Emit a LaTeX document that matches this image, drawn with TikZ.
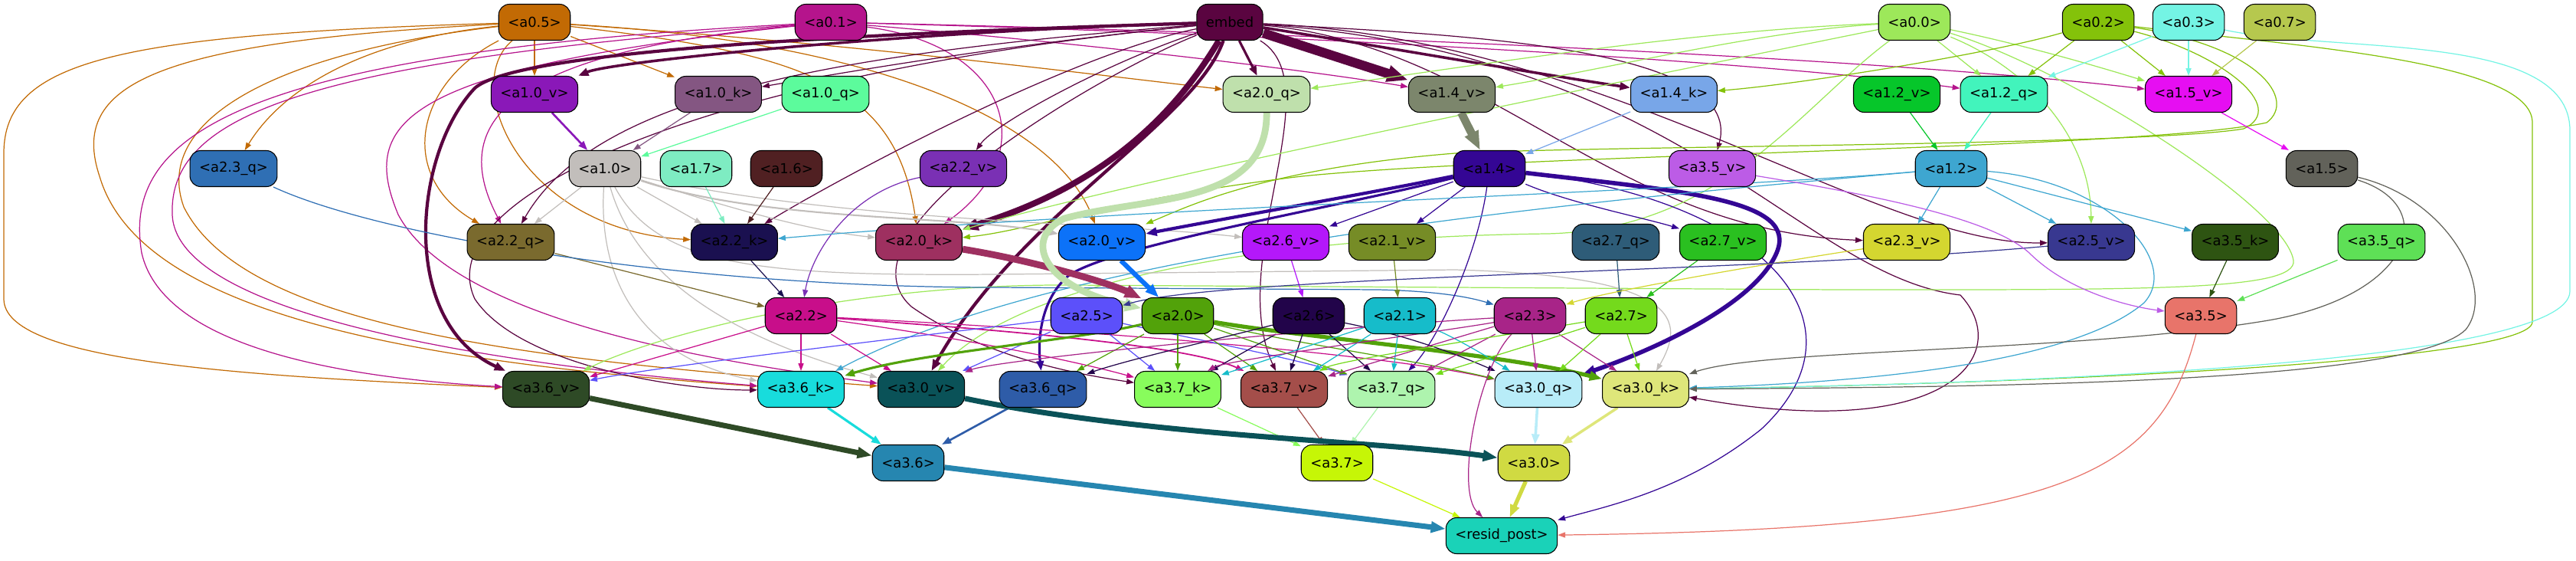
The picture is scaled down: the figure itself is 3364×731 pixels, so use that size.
\documentclass[tikz,border=0pt]{standalone}
\usepackage{fontspec}
\setmainfont{DejaVu Sans}
\usetikzlibrary{arrows.meta}
\pgfdeclarelayer{bg}
\pgfsetlayers{bg,main}
\definecolor{c05}{HTML}{C26A04}\definecolor{c01}{HTML}{B5148C}\definecolor{cemb}{HTML}{5A0440}
\definecolor{c00}{HTML}{9DE85A}\definecolor{c02}{HTML}{84C20A}\definecolor{c03}{HTML}{74F4E4}
\definecolor{c07}{HTML}{B6C84E}
\definecolor{c10v}{HTML}{8A18B8}\definecolor{c10k}{HTML}{845682}\definecolor{c10q}{HTML}{5CFB9C}
\definecolor{c20q}{HTML}{BFE0AC}\definecolor{c14v}{HTML}{7C866C}\definecolor{c14k}{HTML}{78A6E8}
\definecolor{c12v}{HTML}{06C62A}\definecolor{c12q}{HTML}{42F4BC}\definecolor{c15v}{HTML}{E60EF2}
\definecolor{c23q}{HTML}{2F6FB4}\definecolor{c10}{HTML}{C2BEBB}\definecolor{c17}{HTML}{7EECC2}
\definecolor{c16}{HTML}{502022}\definecolor{c22v}{HTML}{7A30B4}\definecolor{c14}{HTML}{340694}
\definecolor{c35v}{HTML}{BC5CE6}\definecolor{c12}{HTML}{3EA6D0}\definecolor{c15}{HTML}{62625A}
\definecolor{c22q}{HTML}{7A6A2E}\definecolor{c22k}{HTML}{1A1050}\definecolor{c20k}{HTML}{9E3060}
\definecolor{c20v}{HTML}{0C72F8}\definecolor{c26v}{HTML}{B418FA}\definecolor{c21v}{HTML}{768C26}
\definecolor{c27q}{HTML}{2E5C78}\definecolor{c27v}{HTML}{2AC020}\definecolor{c23v}{HTML}{D4D630}
\definecolor{c25v}{HTML}{383890}\definecolor{c35k}{HTML}{2E5412}\definecolor{c35q}{HTML}{5EE056}
\definecolor{c22}{HTML}{C80E8A}\definecolor{c25}{HTML}{5C50FA}\definecolor{c20}{HTML}{52A20A}
\definecolor{c26}{HTML}{22044A}\definecolor{c21}{HTML}{16BCCA}\definecolor{c23}{HTML}{A82488}
\definecolor{c27}{HTML}{74DA1C}\definecolor{c35}{HTML}{E8746A}
\definecolor{c36v}{HTML}{2E4A26}\definecolor{c36k}{HTML}{18DCDC}\definecolor{c30v}{HTML}{0A5258}
\definecolor{c36q}{HTML}{2E5CA8}\definecolor{c37k}{HTML}{88FC5C}\definecolor{c37v}{HTML}{A44E4A}
\definecolor{c37q}{HTML}{AEF4AE}\definecolor{c30q}{HTML}{B8ECF8}\definecolor{c30k}{HTML}{DEE67A}
\definecolor{c36}{HTML}{2686B0}\definecolor{c37}{HTML}{C6F606}\definecolor{c30}{HTML}{D0DA42}
\definecolor{crp}{HTML}{1AD2B8}
\tikzset{
  box/.style={draw=black, line width=0.6pt, rounded corners=0.28cm, minimum height=0.94cm,
    inner xsep=0.24cm, inner ysep=0pt, fill=#1, font=\fontsize{10.2}{12}\selectfont},
  wire/.style={draw=#1, line width=0.7pt, -{Triangle[length=4.5pt 1.6, width=3.2pt 1.2]}}
}
\begin{document}
\begin{tikzpicture}[x=0.02cm,y=-0.02cm]
\useasboundingbox (0,0) rectangle (3364,731);
% row 1
\node[box=c05] (a05) at (698,29) {<a0.5>};
\node[box=c01] (a01) at (1085,29) {<a0.1>};
\node[box=cemb] (emb) at (1606,29) {embed};
\node[box=c00] (a00) at (2500,29) {<a0.0>};
\node[box=c02] (a02) at (2740,29) {<a0.2>};
\node[box=c03] (a03) at (2858,29) {<a0.3>};
\node[box=c07] (a07) at (2977,29) {<a0.7>};
% row 2
\node[box=c10v] (a10v) at (698,123) {<a1.0\_v>};
\node[box=c10k] (a10k) at (938,123) {<a1.0\_k>};
\node[box=c10q] (a10q) at (1078,123) {<a1.0\_q>};
\node[box=c20q] (a20q) at (1654,123) {<a2.0\_q>};
\node[box=c14v] (a14v) at (1896,123) {<a1.4\_v>};
\node[box=c14k] (a14k) at (2186,123) {<a1.4\_k>};
\node[box=c12v] (a12v) at (2477,123) {<a1.2\_v>};
\node[box=c12q] (a12q) at (2617,123) {<a1.2\_q>};
\node[box=c15v] (a15v) at (2858,123) {<a1.5\_v>};
% row 3
\node[box=c23q] (a23q) at (305,220) {<a2.3\_q>};
\node[box=c10] (a10) at (790,220) {<a1.0>};
\node[box=c17] (a17) at (909,220) {<a1.7>};
\node[box=c16] (a16) at (1027,220) {<a1.6>};
\node[box=c22v] (a22v) at (1258,220) {<a2.2\_v>};
\node[box=c14] (a14) at (1945,220) {<a1.4>};
\node[box=c35v] (a35v) at (2236,220) {<a3.5\_v>};
\node[box=c12] (a12) at (2548,220) {<a1.2>};
\node[box=c15] (a15) at (3032,220) {<a1.5>};
% row 4
\node[box=c22q] (a22q) at (667,316) {<a2.2\_q>};
\node[box=c22k] (a22k) at (959,316) {<a2.2\_k>};
\node[box=c20k] (a20k) at (1200,316) {<a2.0\_k>};
\node[box=c20v] (a20v) at (1439,316) {<a2.0\_v>};
\node[box=c26v] (a26v) at (1679,316) {<a2.6\_v>};
\node[box=c21v] (a21v) at (1818,316) {<a2.1\_v>};
\node[box=c27q] (a27q) at (2110,316) {<a2.7\_q>};
\node[box=c27v] (a27v) at (2250,316) {<a2.7\_v>};
\node[box=c23v] (a23v) at (2490,316) {<a2.3\_v>};
\node[box=c25v] (a25v) at (2731,316) {<a2.5\_v>};
\node[box=c35k] (a35k) at (2919,316) {<a3.5\_k>};
\node[box=c35q] (a35q) at (3110,316) {<a3.5\_q>};
% row 5
\node[box=c22] (a22) at (1046,412) {<a2.2>};
\node[box=c25] (a25) at (1419,412) {<a2.5>};
\node[box=c20] (a20) at (1538,412) {<a2.0>};
\node[box=c26] (a26) at (1709,412) {<a2.6>};
\node[box=c21] (a21) at (1828,412) {<a2.1>};
\node[box=c23] (a23) at (1998,412) {<a2.3>};
\node[box=c27] (a27) at (2117,412) {<a2.7>};
\node[box=c35] (a35) at (2874,412) {<a3.5>};
% row 6
\node[box=c36v] (a36v) at (713,508) {<a3.6\_v>};
\node[box=c36k] (a36k) at (1046,508) {<a3.6\_k>};
\node[box=c30v] (a30v) at (1203,508) {<a3.0\_v>};
\node[box=c36q] (a36q) at (1362,508) {<a3.6\_q>};
\node[box=c37k] (a37k) at (1538,508) {<a3.7\_k>};
\node[box=c37v] (a37v) at (1677,508) {<a3.7\_v>};
\node[box=c37q] (a37q) at (1817,508) {<a3.7\_q>};
\node[box=c30q] (a30q) at (2009,508) {<a3.0\_q>};
\node[box=c30k] (a30k) at (2149,508) {<a3.0\_k>};
% row 7, 8
\node[box=c36] (a36) at (1186,604) {<a3.6>};
\node[box=c37] (a37) at (1746,604) {<a3.7>};
\node[box=c30] (a30) at (2003,604) {<a3.0>};
\node[box=crp] (rp) at (1961,699) {<resid\_post>};

\begin{pgfonlayer}{bg}
% a0.5
\draw[wire=c05] (a05) -- (a10v);
\draw[wire=c05] (a05) -- (a10k);
\draw[wire=c05] (a05) .. controls (450,55) and (360,130) .. (a23q);
\draw[wire=c05] (a05) .. controls (540,110) and (520,230) .. (a22q);
\draw[wire=c05] (a05) .. controls (600,110) and (680,300) .. (a22k);
\draw[wire=c05] (a05) .. controls (1050,70) and (1170,110) .. (a20k);
\draw[wire=c05] (a05) .. controls (1100,55) and (1450,100) .. (a20q);
\draw[wire=c05] (a05) .. controls (1150,55) and (1380,160) .. (a20v);
\draw[wire=c05] (a05) .. controls (150,45) and (5,80) .. (5,200) -- (5,390) .. controls (5,470) and (300,490) .. (a36v);
\draw[wire=c05] (a05) .. controls (200,55) and (90,110) .. (130,230) .. controls (180,400) and (500,470) .. (a36k);
\draw[wire=c05] (a05) .. controls (350,70) and (200,160) .. (240,270) .. controls (320,430) and (700,470) .. (a30v);
% a0.1
\draw[wire=c01] (a01) .. controls (640,70) and (590,170) .. (a22q);
\draw[wire=c01] (a01) .. controls (300,70) and (160,180) .. (185,330) .. controls (210,440) and (400,490) .. (a36v);
\draw[wire=c01] (a01) .. controls (400,80) and (220,150) .. (225,280) .. controls (230,420) and (700,480) .. (a36k);
\draw[wire=c01] (a01) .. controls (520,90) and (470,160) .. (520,280) .. controls (600,430) and (1000,480) .. (a30v);
\draw[wire=c01] (a01) .. controls (1400,55) and (1700,90) .. (a14v);
\draw[wire=c01] (a01) .. controls (1700,45) and (2300,80) .. (a12q);
\draw[wire=c01] (a01) .. controls (1800,45) and (2500,80) .. (a15v);
\draw[wire=c01] (a01) .. controls (1320,60) and (1360,200) .. (a20k);
% embed
\draw[wire=cemb, line width=2pt] (emb) .. controls (1200,40) and (800,80) .. (a10v);
\draw[wire=cemb, line width=2.4pt] (emb) .. controls (900,50) and (660,80) .. (620,115) .. controls (540,200) and (520,420) .. (a36v);
\draw[wire=cemb] (emb) .. controls (1300,60) and (1100,95) .. (a10k);
\draw[wire=cemb] (emb) .. controls (1100,70) and (780,120) .. (a22q);
\draw[wire=cemb] (emb) .. controls (1400,70) and (1100,230) .. (a22k);
\draw[wire=cemb] (emb) .. controls (1450,80) and (1300,160) .. (a22v);
\draw[wire=cemb, line width=4.5pt] (emb) .. controls (1540,140) and (1450,240) .. (a20k);
\draw[wire=cemb, line width=2.4pt] (emb) .. controls (1560,160) and (1330,280) .. (a30v);
\draw[wire=cemb, line width=1.8pt] (emb) -- (a20q);
\draw[wire=cemb, line width=7pt] (emb) -- (a14v);
\draw[wire=cemb, line width=2pt] (emb) .. controls (1800,60) and (2000,95) .. (a14k);
\draw[wire=cemb] (emb) .. controls (1900,45) and (2280,60) .. (a35v);
\draw[wire=cemb] (emb) .. controls (1740,110) and (1600,340) .. (a37v);
\draw[wire=cemb] (emb) .. controls (1450,90) and (1080,300) .. (1190,400) .. controls (1290,470) and (1420,490) .. (a37k);
\draw[wire=cemb] (emb) .. controls (900,100) and (560,260) .. (620,390) .. controls (680,480) and (900,510) .. (a36k);
\draw[wire=cemb] (emb) .. controls (1950,60) and (2100,300) .. (a23v);
\draw[wire=cemb] (emb) .. controls (2100,50) and (2450,320) .. (a25v);
\draw[wire=cemb] (emb) .. controls (2200,70) and (2350,360) .. (2560,385) .. controls (2630,460) and (2550,580) .. (a30k);
% a0.0
\draw[wire=c00] (a00) -- (a12q);
\draw[wire=c00] (a00) .. controls (2650,60) and (2750,90) .. (a15v);
\draw[wire=c00] (a00) .. controls (2650,90) and (2730,180) .. (a25v);
\draw[wire=c00] (a00) .. controls (2300,40) and (2100,90) .. (a14v);
\draw[wire=c00] (a00) .. controls (2200,40) and (1900,90) .. (a20q);
\draw[wire=c00] (a00) .. controls (2100,110) and (1500,230) .. (a20k);
\draw[wire=c00] (a00) .. controls (2700,90) and (2985,270) .. (2995,340) .. controls (3000,380) and (2800,378) .. (2400,378) -- (1400,372) .. controls (1100,370) and (850,440) .. (a36v);
\draw[wire=c00] (a00) .. controls (2350,140) and (2250,300) .. (2020,305) .. controls (1600,310) and (1320,380) .. (a30v);
% a0.2
\draw[wire=c02] (a02) -- (a12q);
\draw[wire=c02] (a02) -- (a15v);
\draw[wire=c02] (a02) .. controls (2600,70) and (2350,110) .. (a14k);
\draw[wire=c02] (a02) .. controls (2900,70) and (2990,140) .. (2930,168) .. controls (2800,190) and (2100,190) .. (1900,200) .. controls (1650,220) and (1550,270) .. (a20v);
\draw[wire=c02] (a02) .. controls (2950,60) and (3000,130) .. (2960,160) .. controls (2800,195) and (2000,200) .. (1700,230) .. controls (1450,260) and (1350,300) .. (a20k);
\draw[wire=c02] (a02) .. controls (3000,60) and (3307,80) .. (3307,160) -- (3307,420) .. controls (3307,470) and (2700,500) .. (a30k);
% a0.3, a0.7
\draw[wire=c03] (a03) -- (a12q);
\draw[wire=c03] (a03) -- (a15v);
\draw[wire=c03] (a03) .. controls (3050,70) and (3356,40) .. (3356,170) -- (3356,380) .. controls (3356,470) and (2700,500) .. (a30k);
\draw[wire=c07] (a07) -- (a15v);
% row 2 to row 3
\draw[wire=c10v, line width=1.5pt] (a10v) -- (a10);
\draw[wire=c10k] (a10k) -- (a10);
\draw[wire=c10q] (a10q) -- (a10);
\draw[wire=c14v, line width=6pt] (a14v) -- (a14);
\draw[wire=c14k] (a14k) -- (a14);
\draw[wire=c12v] (a12v) -- (a12);
\draw[wire=c12q] (a12q) -- (a12);
\draw[wire=c15v] (a15v) -- (a15);
% a1.0
\draw[wire=c10] (a10) -- (a22q);
\draw[wire=c10] (a10) -- (a22k);
\draw[wire=c10] (a10) .. controls (950,270) and (1050,300) .. (a20k);
\draw[wire=c10, line width=1.2pt] (a10) .. controls (1000,290) and (1250,280) .. (a20v);
\draw[wire=c10] (a10) .. controls (1100,290) and (1450,290) .. (a26v);
\draw[wire=c10] (a10) .. controls (780,380) and (850,470) .. (a36k);
\draw[wire=c10] (a10) .. controls (830,360) and (950,440) .. (a30v);
\draw[wire=c10] (a10) .. controls (860,350) and (1000,360) .. (1300,358) -- (1900,352) .. controls (2200,360) and (2200,420) .. (a30k);
% row 3 others
\draw[wire=c17] (a17) -- (a22k);
\draw[wire=c16] (a16) -- (a22k);
\draw[wire=c22v] (a22v) .. controls (1110,250) and (1060,330) .. (a22);
\draw[wire=c22q] (a22q) -- (a22);
\draw[wire=c22k] (a22k) -- (a22);
\draw[wire=c23q] (a23q) .. controls (500,310) and (900,375) .. (1300,375) -- (1800,378) .. controls (1880,380) and (1920,388) .. (a23);
% a1.4
\draw[wire=c14, line width=2.4pt] (a14) .. controls (1800,250) and (1600,285) .. (a20v);
\draw[wire=c14, line width=1.8pt] (a14) .. controls (1750,270) and (1450,320) .. (1395,360) .. controls (1360,390) and (1355,440) .. (a36q);
\draw[wire=c14] (a14) -- (a26v);
\draw[wire=c14] (a14) -- (a21v);
\draw[wire=c14] (a14) .. controls (2050,265) and (2150,285) .. (a27v);
\draw[wire=c14, line width=3.2pt] (a14) .. controls (2200,250) and (2350,260) .. (2320,330) .. controls (2290,400) and (2150,460) .. (a30q);
\draw[wire=c14] (a14) .. controls (1930,330) and (1880,440) .. (a37q);
\draw[wire=c14] (a14) .. controls (2300,260) and (2450,420) .. (2300,560) .. controls (2200,640) and (2100,660) .. (rp);
% a1.2, a1.5
\draw[wire=c12] (a12) -- (a23v);
\draw[wire=c12] (a12) -- (a25v);
\draw[wire=c12] (a12) -- (a35k);
\draw[wire=c12] (a12) .. controls (2200,250) and (1500,270) .. (a22k);
\draw[wire=c12] (a12) .. controls (2100,260) and (1400,320) .. (a36k);
\draw[wire=c12] (a12) .. controls (2750,235) and (2850,340) .. (2800,395) .. controls (2700,480) and (2400,500) .. (a30k);
\draw[wire=c15] (a15) .. controls (3200,260) and (3260,380) .. (3220,430) .. controls (3150,500) and (2600,505) .. (a30k);
\draw[wire=c15] (a15) .. controls (3190,270) and (3150,390) .. (2950,420) .. controls (2700,460) and (2300,455) .. (a30k);
% row 4 to row 5
\draw[wire=c20k, line width=5pt] (a20k) .. controls (1350,340) and (1450,370) .. (a20);
\draw[wire=c20v, line width=3.5pt] (a20v) -- (a20);
\draw[wire=c20q, line width=5pt] (a20q) .. controls (1655,270) and (1500,255) .. (1390,285) .. controls (1335,310) and (1360,375) .. (a20);
\draw[wire=c26v] (a26v) -- (a26);
\draw[wire=c21v] (a21v) -- (a21);
\draw[wire=c27q] (a27q) -- (a27);
\draw[wire=c27v] (a27v) -- (a27);
\draw[wire=c23v] (a23v) .. controls (2300,345) and (2100,380) .. (a23);
\draw[wire=c25v] (a25v) .. controls (2300,355) and (1600,360) .. (a25);
\draw[wire=c35k] (a35k) -- (a35);
\draw[wire=c35q] (a35q) -- (a35);
\draw[wire=c35v] (a35v) .. controls (2450,255) and (2600,285) .. (2650,330) .. controls (2700,380) and (2780,400) .. (a35);
% row 5 to row 6
\draw[wire=c22] (a22) -- (a36k);
\draw[wire=c22] (a22) -- (a36v);
\draw[wire=c22] (a22) -- (a30v);
\draw[wire=c22] (a22) .. controls (1250,440) and (1400,470) .. (a37k);
\draw[wire=c22, line width=1pt] (a22) .. controls (1300,430) and (1550,450) .. (a37v);
\draw[wire=c22] (a22) .. controls (1400,430) and (1800,460) .. (a30q);
\draw[wire=c25] (a25) .. controls (1100,450) and (850,480) .. (a36v);
\draw[wire=c25] (a25) -- (a30v);
\draw[wire=c25] (a25) -- (a37k);
\draw[wire=c25] (a25) .. controls (1550,440) and (1700,470) .. (a37q);
\draw[wire=c20] (a20) -- (a37k);
\draw[wire=c20] (a20) -- (a36q);
\draw[wire=c20, line width=1.8pt] (a20) .. controls (1400,445) and (1200,460) .. (a36k);
\draw[wire=c20, line width=3pt] (a20) .. controls (1700,440) and (1950,460) .. (a30k);
\draw[wire=c20] (a20) -- (a37v);
\draw[wire=c20] (a20) -- (a37q);
\draw[wire=c20] (a20) .. controls (1700,450) and (1850,470) .. (a30q);
\draw[wire=c26] (a26) -- (a37v);
\draw[wire=c26] (a26) -- (a37q);
\draw[wire=c26] (a26) .. controls (1600,440) and (1470,470) .. (a36q);
\draw[wire=c26] (a26) .. controls (1850,440) and (1920,470) .. (a30q);
\draw[wire=c26] (a26) -- (a37k);
\draw[wire=c21] (a21) -- (a37q);
\draw[wire=c21] (a21) -- (a37v);
\draw[wire=c21] (a21) -- (a37k);
\draw[wire=c21] (a21) .. controls (1900,440) and (1950,470) .. (a30q);
\draw[wire=c23] (a23) -- (a30q);
\draw[wire=c23] (a23) -- (a30k);
\draw[wire=c23] (a23) -- (a37q);
\draw[wire=c23] (a23) -- (a37v);
\draw[wire=c23] (a23) .. controls (1700,430) and (1300,470) .. (a30v);
\draw[wire=c23] (a23) .. controls (1900,430) and (1600,470) .. (a37k);
\draw[wire=c23] (a23) .. controls (1930,480) and (1900,640) .. (rp);
\draw[wire=c27] (a27) -- (a30q);
\draw[wire=c27] (a27) -- (a30k);
\draw[wire=c27] (a27) .. controls (2000,450) and (1900,480) .. (a37q);
\draw[wire=c27] (a27) .. controls (1950,440) and (1750,470) .. (a37v);
% row 6 to row 7
\draw[wire=c36v, line width=4pt] (a36v) -- (a36);
\draw[wire=c36k, line width=1.8pt] (a36k) -- (a36);
\draw[wire=c36q, line width=1.5pt] (a36q) -- (a36);
\draw[wire=c37k] (a37k) -- (a37);
\draw[wire=c37v] (a37v) -- (a37);
\draw[wire=c37q] (a37q) -- (a37);
\draw[wire=c30v, line width=4pt] (a30v) .. controls (1500,570) and (1800,575) .. (a30);
\draw[wire=c30q, line width=2pt] (a30q) -- (a30);
\draw[wire=c30k, line width=2pt] (a30k) -- (a30);
% into resid_post
\draw[wire=c36, line width=4pt] (a36) -- (rp);
\draw[wire=c37] (a37) -- (rp);
\draw[wire=c30, line width=3pt] (a30) -- (rp);
\draw[wire=c35] (a35) .. controls (2820,620) and (2700,690) .. (rp);
\end{pgfonlayer}
\end{tikzpicture}
\end{document}
